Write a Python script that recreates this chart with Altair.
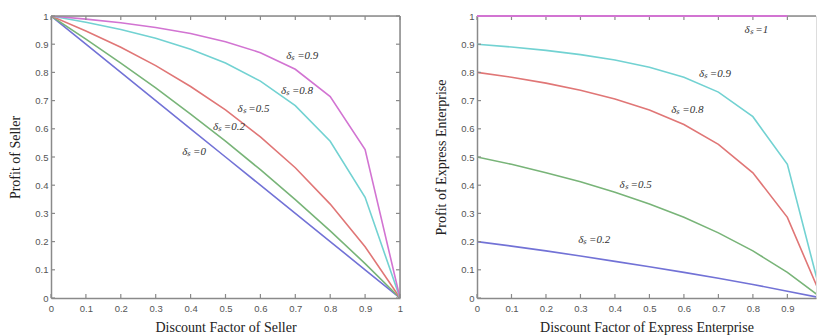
import altair as alt
import pandas as pd

# ---------------- data ----------------
x_vals = [0, 0.1, 0.2, 0.3, 0.4, 0.5, 0.6, 0.7, 0.8, 0.9, 1.0]

# Left panel: Profit of Seller (one curve per delta)
seller_d0 = [1.0, 0.9, 0.8, 0.7, 0.6, 0.5, 0.4, 0.3, 0.2, 0.1, 0.0]
seller_d02 = [1.0, 0.918, 0.833, 0.745, 0.652, 0.556, 0.455, 0.349, 0.238, 0.122, 0.0]
seller_d05 = [1.0, 0.947, 0.889, 0.824, 0.75, 0.667, 0.571, 0.462, 0.333, 0.182, 0.0]
seller_d08 = [1.0, 0.978, 0.952, 0.921, 0.882, 0.833, 0.769, 0.682, 0.556, 0.357, 0.0]
seller_d09 = [1.0, 0.989, 0.976, 0.959, 0.938, 0.909, 0.870, 0.811, 0.714, 0.526, 0.0]

# Right panel: Profit of Express Enterprise (one curve per delta_s)
exp_x_d1 = [0, 0.1, 0.2, 0.3, 0.4, 0.5, 0.6, 0.7, 0.8, 0.9]
exp_d1 = [1.0, 1.0, 1.0, 1.0, 1.0, 1.0, 1.0, 1.0, 1.0, 1.0]
exp_d09 = [0.9, 0.890, 0.878, 0.863, 0.844, 0.818, 0.783, 0.730, 0.643, 0.474, 0.0]
exp_d08 = [0.8, 0.783, 0.762, 0.737, 0.706, 0.667, 0.615, 0.545, 0.444, 0.286, 0.0]
exp_d05 = [0.5, 0.474, 0.444, 0.412, 0.375, 0.333, 0.286, 0.231, 0.167, 0.091, 0.0]
exp_d02 = [0.2, 0.184, 0.167, 0.149, 0.130, 0.111, 0.091, 0.070, 0.048, 0.024, 0.0]

# curve labels
left_lab_text = ["δₛ =0.9", "δₛ =0.8", "δₛ =0.5", "δₛ =0.2", "δₛ =0"]
left_lab_x = [0.72, 0.705, 0.58, 0.51, 0.41]
left_lab_y = [0.858, 0.733, 0.67, 0.605, 0.516]

right_lab_text = ["δₛ =1", "δₛ =0.9", "δₛ =0.8", "δₛ =0.5", "δₛ =0.2"]
right_lab_x = [0.81, 0.69, 0.61, 0.46, 0.34]
right_lab_y = [0.95, 0.795, 0.667, 0.40, 0.205]

ticks_left = [0, 0.1, 0.2, 0.3, 0.4, 0.5, 0.6, 0.7, 0.8, 0.9, 1]
ticks_right_x = [0, 0.1, 0.2, 0.3, 0.4, 0.5, 0.6, 0.7, 0.8, 0.9]
ticks_y = [0, 0.1, 0.2, 0.3, 0.4, 0.5, 0.6, 0.7, 0.8, 0.9, 1]

BLUE, GREEN, RED, CYAN, MAGENTA = "#7272d6", "#78b478", "#e07676", "#72d2d2", "#d274d2"
series_names = ["L0", "L02", "L05", "L08", "L09", "R02", "R05", "R08", "R09", "R1"]
series_colors = [BLUE, GREEN, RED, CYAN, MAGENTA, BLUE, GREEN, RED, CYAN, MAGENTA]

# ---------------- styling ----------------
W1, W2, H = 349, 339, 282
FRAME = "#8a8a8a"
LABEL_FONT = "Liberation Sans"
TITLE_FONT = "Liberation Serif"


def long_df(xs_list, ys_list, names):
    rows = []
    for xs, ys, n in zip(xs_list, ys_list, names):
        for xv, yv in zip(xs, ys):
            rows.append({"x": xv, "y": yv, "s": n})
    return pd.DataFrame(rows)


left_df = long_df(
    [x_vals] * 5,
    [seller_d0, seller_d02, seller_d05, seller_d08, seller_d09],
    ["L0", "L02", "L05", "L08", "L09"],
)
right_df = long_df(
    [x_vals, x_vals, x_vals, x_vals],
    [exp_d09, exp_d08, exp_d05, exp_d02],
    ["R09", "R08", "R05", "R02"],
)
right_top_df = long_df([exp_x_d1], [exp_d1], ["R1"])

color = alt.Color("s:N", scale=alt.Scale(domain=series_names, range=series_colors), legend=None)


def axis_x(title, values):
    return alt.Axis(
        title=title, values=values, format="~g", ticks=False, grid=False,
        domainColor=FRAME, domainWidth=1.5, labelFont=LABEL_FONT, labelFontSize=9.5,
        labelColor="#555555", labelPadding=5, titleFont=TITLE_FONT, titleFontSize=14,
        titleFontWeight="normal", titleColor="#222222", titlePadding=8,
        labelFlush=False, labelOverlap=False,
    )


def axis_y(title):
    return alt.Axis(
        title=title, values=ticks_y, format="~g", ticks=False, grid=False,
        domainColor=FRAME, domainWidth=1.5, labelFont=LABEL_FONT, labelFontSize=9.5,
        labelColor="#555555", labelPadding=3, titleFont=TITLE_FONT, titleFontSize=14,
        titleFontWeight="normal", titleColor="#222222", titlePadding=12,
        labelFlush=False, labelOverlap=False,
    )


def panel(df, extra_df, xdomain, xvalues, xtitle, ytitle, W, lab_text, lab_x, lab_y, right_ticks):
    xs = alt.Scale(domain=xdomain, nice=False, zero=False)
    ys = alt.Scale(domain=[0, 1], nice=False)
    ax = axis_x(xtitle, xvalues)
    ay = axis_y(ytitle)
    X = lambda: alt.X("x:Q", scale=xs, axis=ax)
    Y = lambda: alt.Y("y:Q", scale=ys, axis=ay)

    lines = alt.Chart(df).mark_line(strokeWidth=1.6, clip=True).encode(
        x=X(), y=Y(), color=color, detail="s:N",
    )
    labs = alt.Chart(pd.DataFrame({"t": lab_text, "x": lab_x, "y": lab_y})).mark_text(
        font=TITLE_FONT, fontSize=11, fontStyle="italic", color="#333333"
    ).encode(x=X(), y=Y(), text="t:N")

    tx = pd.DataFrame({"x": xvalues})
    ty = pd.DataFrame({"y": ticks_y})
    tb = alt.Chart(tx).mark_rule(color=FRAME, strokeWidth=1.2).encode(
        x=X(), y=alt.value(H), y2=alt.value(H - 4))
    tt = alt.Chart(tx).mark_rule(color=FRAME, strokeWidth=1.2).encode(
        x=X(), y=alt.value(0), y2=alt.value(4))
    tl = alt.Chart(ty).mark_rule(color=FRAME, strokeWidth=1.2).encode(
        y=Y(), x=alt.value(0), x2=alt.value(4))
    top = alt.Chart(pd.DataFrame({"a": [0]})).mark_rule(color=FRAME, strokeWidth=1.5).encode(
        x=alt.value(0), x2=alt.value(W), y=alt.value(0))
    layers = [lines, tb, tt, tl, top]
    if right_ticks:
        tr = alt.Chart(ty).mark_rule(color=FRAME, strokeWidth=1.2).encode(
            y=Y(), x=alt.value(W - 4), x2=alt.value(W))
        right = alt.Chart(pd.DataFrame({"a": [0]})).mark_rule(color=FRAME, strokeWidth=1.5).encode(
            x=alt.value(W), y=alt.value(0), y2=alt.value(H))
        layers += [tr, right]
    if extra_df is not None:
        layers.append(alt.Chart(extra_df).mark_line(strokeWidth=2).encode(
            x=X(), y=Y(), color=color, detail="s:N"))
    layers.append(labs)
    return alt.layer(*layers).properties(width=W, height=H)


left = panel(left_df, None, [0, 1], ticks_left, "Discount Factor of Seller", "Profit of Seller",
             W1, left_lab_text, left_lab_x, left_lab_y, True)
right = panel(right_df, right_top_df, [0, 0.983], ticks_right_x,
              "Discount Factor of Express Enterprise", "Profit of Express Enterprise",
              W2, right_lab_text, right_lab_x, right_lab_y, False)

chart = alt.hconcat(left, right, spacing=30).properties(
    padding={"left": 0, "top": 2, "right": 0, "bottom": 0}
).configure_view(stroke=None).configure_axis(labelOverlap=False).configure(background="white")

chart.save("out.html", embed_options={"renderer": "svg", "actions": False})
